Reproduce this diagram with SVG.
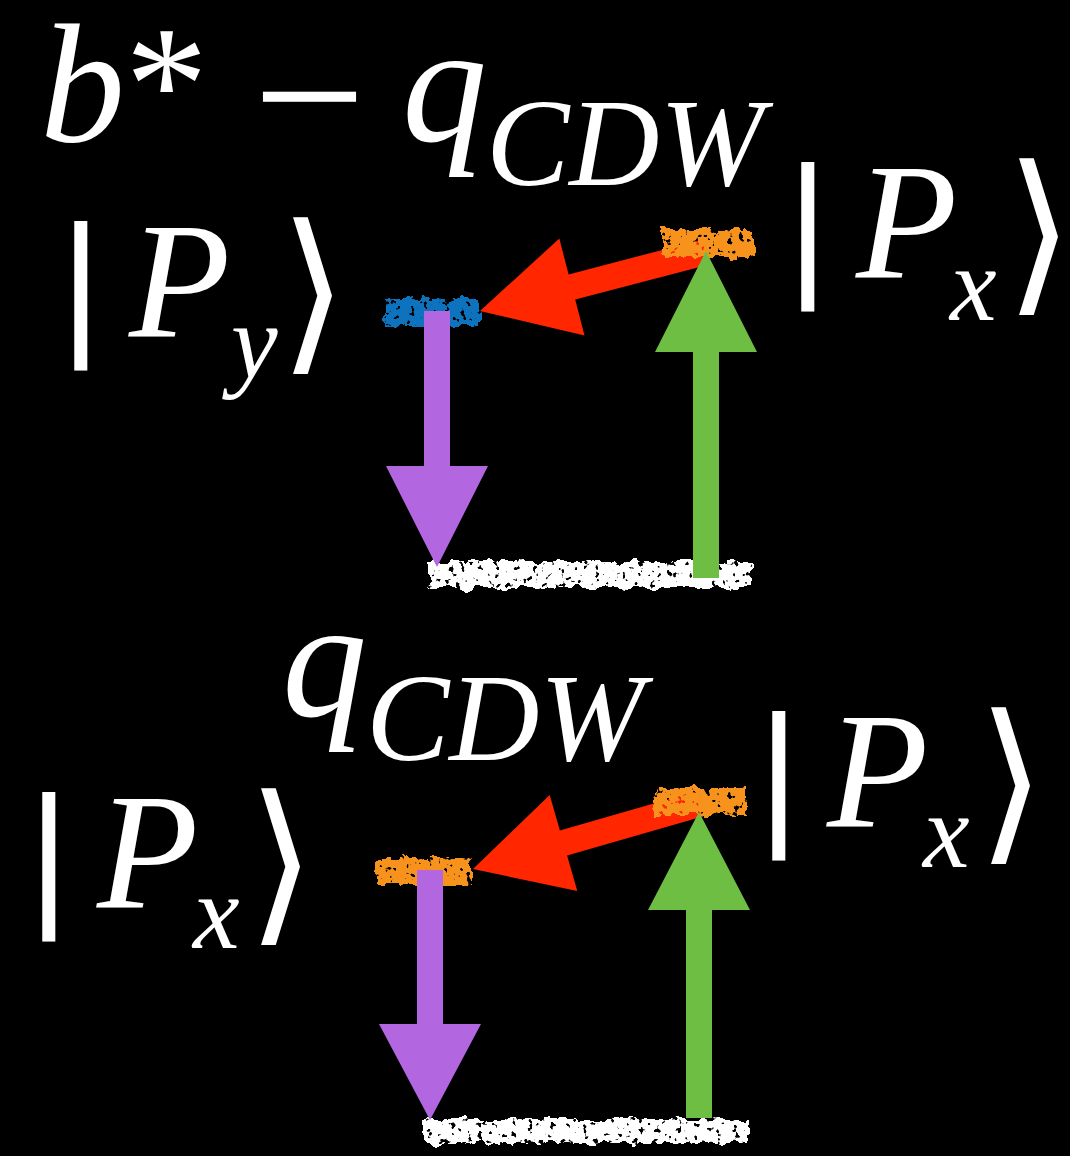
<svg xmlns="http://www.w3.org/2000/svg" width="1070" height="1156" viewBox="0 0 1070 1156">
<defs>
<filter id="rough" x="-15%" y="-60%" width="130%" height="220%">
<feTurbulence type="fractalNoise" baseFrequency="0.07" numOctaves="3" seed="4" result="n"/>
<feDisplacementMap in="SourceGraphic" in2="n" scale="14" xChannelSelector="R" yChannelSelector="G" result="d"/>
<feTurbulence type="fractalNoise" baseFrequency="0.18" numOctaves="2" seed="9" result="h"/>
<feColorMatrix in="h" type="matrix" values="0 0 0 0 0  0 0 0 0 0  0 0 0 0 0  0 0 0 16 -10.2" result="holes"/>
<feComposite in="d" in2="holes" operator="out"/>
</filter>
<style>
.bar{filter:url(#rough)}
.orange{fill:#F7931E}
.blue{fill:#1173BF}
.white{fill:#FFFFFF}
.red{fill:#FF2600}
.purple{fill:#B267E1}
.green{fill:#6FBE44}
</style>
</defs>
<rect x="0" y="0" width="1070" height="1156" fill="#000"/>

<g id="top-py-level"><rect class="bar blue" x="385" y="299" width="95" height="27"/></g>
<g id="top-ground-level"><rect class="bar white" x="428" y="561" width="325" height="27"/></g>
<g id="bot-ground-level"><rect class="bar white" x="422" y="1119" width="325" height="24"/></g>

<g id="connectors-red">
<polygon class="red" points="480,311 559.3,238.6 568.6,274.4 702.7,239.4 709.3,264.6 575.2,299.6 584.5,335.4"/>
<polygon class="red" points="473,869 549.7,795 559.9,830.5 695.4,791.5 702.6,816.5 567.1,855.5 577.3,891"/>
</g>

<g id="top-px-level"><rect class="bar orange" x="662" y="229" width="92" height="28"/></g>
<g id="bot-px-right-level"><rect class="bar orange" x="653" y="788" width="94" height="27"/></g>
<g id="bot-px-left-level"><rect class="bar orange" x="378" y="858" width="94" height="27"/></g>

<g id="connectors">
<polygon class="purple" points="424,311 450,311 450,466 488,466 437,567 386,466 424,466"/>
<polygon class="green" points="693,578 719,578 719,352 757,352 706,251 655,352 693,352"/>
<polygon class="purple" points="417,870 443,870 443,1024 481,1024 430,1120 379,1024 417,1024"/>
<polygon class="green" points="686,1118 712,1118 712,910 750,910 699,812 648,910 686,910"/>
</g>

<g fill="#fff" font-family="'Liberation Serif', 'Times New Roman', serif">
<g id="label-top-q">
<text x="40" y="141" font-size="170" font-style="italic">b</text>
<text x="125" y="140" font-size="166">*</text>
<text x="253" y="163" font-size="200">−</text>
<text x="402" y="141" font-size="170" font-style="italic">q</text>
<text x="486" y="185" font-size="125" font-style="italic">CDW</text>
</g>

<g id="label-bot-q">
<text x="282" y="716" font-size="170" font-style="italic">q</text>
<text x="366" y="760" font-size="125" font-style="italic">CDW</text>
</g>

<g id="ket-top-left">
<text x="60" y="337" font-size="160" font-family="'Liberation Sans', Arial, sans-serif">|</text>
<text x="129" y="337" font-size="166" font-style="italic">P</text>
<text x="231" y="377" font-size="105" font-style="italic">y</text>
<text x="279" y="351" font-size="176" font-family="'DejaVu Sans', sans-serif">⟩</text>
</g>

<g id="ket-top-right">
<text x="787" y="278" font-size="160" font-family="'Liberation Sans', Arial, sans-serif">|</text>
<text x="856" y="278" font-size="166" font-style="italic">P</text>
<text x="950" y="320" font-size="105" font-style="italic">x</text>
<text x="1005" y="292" font-size="176" font-family="'DejaVu Sans', sans-serif">⟩</text>
</g>

<g id="ket-bot-left">
<text x="28" y="908" font-size="160" font-family="'Liberation Sans', Arial, sans-serif">|</text>
<text x="97" y="908" font-size="166" font-style="italic">P</text>
<text x="193" y="948" font-size="105" font-style="italic">x</text>
<text x="247" y="922" font-size="176" font-family="'DejaVu Sans', sans-serif">⟩</text>
</g>

<g id="ket-bot-right">
<text x="758" y="827" font-size="160" font-family="'Liberation Sans', Arial, sans-serif">|</text>
<text x="827" y="827" font-size="166" font-style="italic">P</text>
<text x="923" y="867" font-size="105" font-style="italic">x</text>
<text x="977" y="841" font-size="176" font-family="'DejaVu Sans', sans-serif">⟩</text>
</g>
</g>
</svg>
